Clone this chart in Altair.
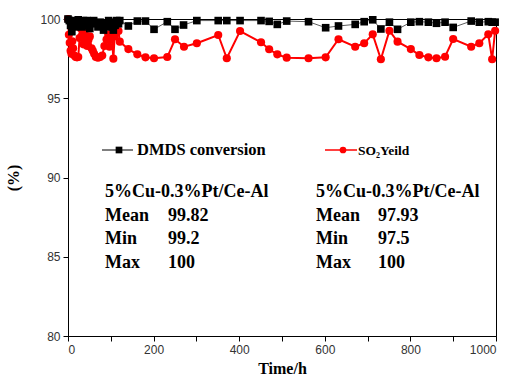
import altair as alt
import pandas as pd

# DMDS conversion (black squares)
dmds_t = [0, 3, 6, 9, 12, 15, 18, 21, 24, 27, 30, 33, 36, 40, 44, 48, 51, 55, 60, 65,
          70, 75, 80, 83, 87, 90, 95, 100, 103, 106, 110, 114, 118, 121,
          141, 162, 181, 201, 232, 250, 270, 301, 351, 371, 402, 451, 470, 489, 511,
          562, 602, 632, 671, 692, 712, 731, 751, 770, 801, 821, 842, 861, 881, 900,
          942, 961, 982, 991, 998]
dmds_v = [100, 99.9, 99.6, 99.2, 99.8, 99.9, 99.5, 99.7, 99.95, 99.6, 99.8, 99.5, 99.9, 99.7,
          99.9, 99.6, 99.4, 99.8, 99.9, 99.7, 99.5, 99.8, 99.6, 99.3, 99.7, 99.7, 99.9, 99.5,
          99.8, 99.3, 99.6, 99.9, 99.7, 99.9,
          99.56, 99.87, 99.87, 99.35, 99.83, 99.35, 99.62, 99.9, 99.9, 99.9, 99.9, 99.9,
          99.85, 99.66, 99.87, 99.83, 99.45, 99.56, 99.66, 99.83, 99.95, 99.37, 99.8, 99.35,
          99.8, 99.83, 99.8, 99.73, 99.8, 99.47, 99.87, 99.8, 99.83, 99.8, 99.8]

# SO2 yield (red circles)
so2_t = [0, 2, 4, 6, 8, 10, 12, 15, 18, 21, 24, 27, 30, 33, 36, 39, 42, 45, 48, 51, 55,
         58, 61, 65, 70, 75, 80, 85, 90, 94, 97, 99, 102, 106, 109, 113, 118,
         121, 141, 162, 181, 201, 232, 250, 271, 301, 351, 371, 402, 451, 470, 489, 511,
         562, 602, 632, 671, 692, 712, 731, 751, 770, 801, 821, 842, 861, 881, 900, 942,
         961, 982, 991, 998]
so2_v = [100, 99.0, 98.5, 98.0, 97.8, 98.6, 98.15, 97.7, 97.6, 97.58, 97.6, 98.8, 99.4,
         99.0, 98.4, 99.2, 98.6, 98.3, 98.7, 98.9, 98.15, 98.0, 97.8, 97.6, 97.56, 97.6,
         97.7, 98.3, 98.7, 99.0, 98.25, 98.7, 99.1, 97.5, 98.9, 99.2, 99.24,
         98.57, 98.1, 97.77, 97.58, 97.52, 97.6, 98.72, 98.25, 98.47, 98.99, 97.52, 99.24,
         98.53, 98.09, 97.77, 97.56, 97.52, 97.58, 98.72, 98.25, 98.47, 99.03, 97.46,
         99.26, 98.57, 98.1, 97.73, 97.58, 97.52, 97.62, 98.74, 98.25, 98.47, 99.03,
         97.46, 99.26]

legend_labels = ["DMDS conversion", "SO\u2082Yeild"]
block_left = ["5%Cu-0.3%Pt/Ce-Al", "Mean", "Min", "Max"]
block_left_vals = ["", "99.82", "99.2", "100"]
block_right = ["5%Cu-0.3%Pt/Ce-Al", "Mean", "Min", "Max"]
block_right_vals = ["", "97.93", "97.5", "100"]

x_ticks = list(range(0, 1001, 100))
y_ticks = [80, 82.5, 85, 87.5, 90, 92.5, 95, 97.5, 100]

df_d = pd.DataFrame({"t": dmds_t, "v": dmds_v})
df_s = pd.DataFrame({"t": so2_t, "v": so2_v})

SERIF = "Liberation Serif"
SANS = "Liberation Sans"

xs = alt.Scale(domain=[0, 1000], nice=False)
ys = alt.Scale(domain=[80, 100], nice=False)

xenc = alt.X("t:Q", scale=xs, title="Time/h",
             axis=alt.Axis(values=x_ticks, labelExpr="datum.value % 200 == 0 ? datum.value : ''",
                           grid=False))
yenc = alt.Y("v:Q", scale=ys, title="(%)",
             axis=alt.Axis(values=y_ticks, labelExpr="datum.value % 5 == 0 ? datum.value : ''",
                           grid=False))

black_line = alt.Chart(df_d).mark_line(color="#333333", strokeWidth=0.8).encode(x=xenc, y=yenc)
black_pts = alt.Chart(df_d).mark_point(shape="square", filled=True, color="black", size=58,
                                        opacity=1).encode(x="t:Q", y="v:Q")
red_line = alt.Chart(df_s).mark_line(color="#ff0000", strokeWidth=2).encode(x="t:Q", y="v:Q")
red_pts = alt.Chart(df_s).mark_point(shape="circle", filled=True, color="#ff0000", size=66,
                                      opacity=1).encode(x="t:Q", y="v:Q")

# legend
leg_df = pd.DataFrame({"a": [0]})
leg_black_rule = alt.Chart(leg_df).mark_rule(color="black", strokeWidth=1).encode(
    x=alt.value(34), x2=alt.value(65), y=alt.value(131))
leg_black_pt = alt.Chart(leg_df).mark_point(shape="square", filled=True, color="black", size=45,
                                             opacity=1).encode(x=alt.value(51), y=alt.value(131))
leg_red_rule = alt.Chart(leg_df).mark_rule(color="#ff0000", strokeWidth=1.5).encode(
    x=alt.value(257), x2=alt.value(289), y=alt.value(131))
leg_red_pt = alt.Chart(leg_df).mark_point(shape="circle", filled=True, color="#ff0000", size=45,
                                           opacity=1).encode(x=alt.value(275), y=alt.value(131))
leg_t1 = alt.Chart(leg_df).mark_text(text=legend_labels[0], font=SERIF, fontWeight="bold",
                                     fontSize=16.5, align="left", baseline="middle",
                                     color="black").encode(x=alt.value(69), y=alt.value(131))
leg_t2 = alt.Chart(leg_df).mark_text(text=legend_labels[1], font=SERIF, fontWeight="bold",
                                     fontSize=13.5, align="left", baseline="middle",
                                     color="black").encode(x=alt.value(290), y=alt.value(132))

rows_y = [173, 197, 220, 244]
txt = pd.DataFrame({
    "row": list(range(4)) * 2,
    "label": block_left + block_right,
    "val": block_left_vals + block_right_vals,
    "side": ["L"] * 4 + ["R"] * 4,
})
txt["py"] = [rows_y[r] for r in txt["row"]]
txt["px"] = [37 if s == "L" else 248 for s in txt["side"]]
txt["pxv"] = [100 if s == "L" else 310 for s in txt["side"]]

text_lbl = alt.Chart(txt).mark_text(font=SERIF, fontWeight="bold", fontSize=18, align="left",
                                    baseline="middle", color="black").encode(
    x=alt.X("px:Q", scale=None), y=alt.Y("py:Q", scale=None), text="label:N")
text_val = alt.Chart(txt).mark_text(font=SERIF, fontWeight="bold", fontSize=18, align="left",
                                    baseline="middle", color="black").encode(
    x=alt.X("pxv:Q", scale=None), y=alt.Y("py:Q", scale=None), text="val:N")

chart = alt.layer(
    black_line, red_line, red_pts, black_pts,
    leg_black_rule, leg_black_pt, leg_red_rule, leg_red_pt, leg_t1, leg_t2,
    text_lbl, text_val,
).properties(
    width=428, height=317,
    autosize=alt.AutoSizeParams(type="none"),
    padding={"left": 68, "top": 19, "right": 13, "bottom": 46},
    background="white",
).configure_view(
    stroke="black", strokeWidth=1
).configure_axis(
    domainColor="black", domainWidth=1, tickColor="black", tickWidth=1, tickSize=5,
    labelFont=SANS, labelFontSize=12, labelColor="#333333",
    titleFont=SERIF, titleFontWeight="bold", titleFontSize=16, titleColor="black",
).configure_axisX(
    labelPadding=3, titlePadding=5,
).configure_axisY(
    labelPadding=3, titlePadding=18,
)

chart.save("out.html", embed_options={"renderer": "svg", "actions": False})
